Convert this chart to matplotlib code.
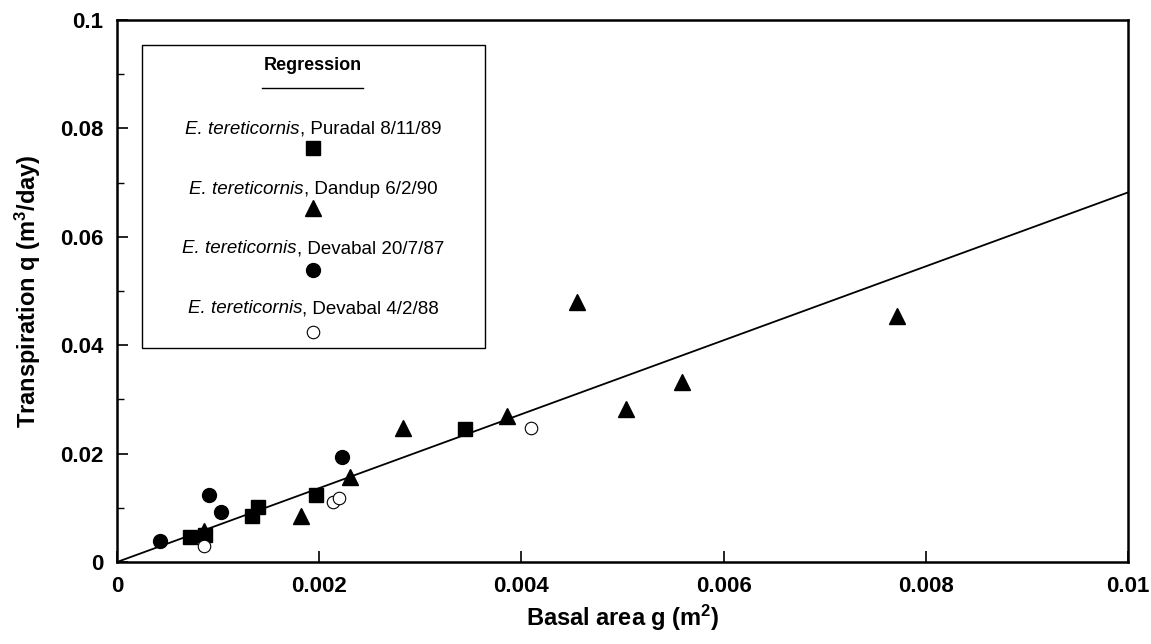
import numpy as np
import matplotlib
matplotlib.use("Agg")
import matplotlib.pyplot as plt
from matplotlib.patches import Rectangle
from matplotlib.ticker import FuncFormatter, MultipleLocator

plt.rcParams["font.family"] = ["Liberation Sans", "DejaVu Sans"]
plt.rcParams["mathtext.fontset"] = "custom"
plt.rcParams["mathtext.rm"] = "Liberation Sans"
plt.rcParams["mathtext.it"] = "Liberation Sans:italic"
plt.rcParams["mathtext.bf"] = "Liberation Sans:bold"

# E. tereticornis, Puradal 8/11/89 (filled squares)
puradal_g = [0.00072, 0.00087, 0.00133, 0.00139, 0.00197, 0.00344]
puradal_q = [0.0046, 0.0050, 0.0084, 0.0102, 0.0124, 0.0245]

# E. tereticornis, Dandup 6/2/90 (filled triangles)
dandup_g = [0.00086, 0.00182, 0.00230, 0.00283, 0.00386, 0.00455, 0.00503, 0.00559, 0.00771]
dandup_q = [0.0057, 0.0084, 0.0157, 0.0247, 0.0269, 0.0480, 0.0282, 0.0333, 0.0453]

# E. tereticornis, Devabal 20/7/87 (filled circles)
dev87_g = [0.00042, 0.00091, 0.00103, 0.00222]
dev87_q = [0.0039, 0.0124, 0.0093, 0.0193]

# E. tereticornis, Devabal 4/2/88 (open circles)
dev88_g = [0.00086, 0.00214, 0.00220, 0.00409]
dev88_q = [0.0030, 0.0111, 0.0118, 0.0247]

# regression through origin, q = slope * g
reg_slope = 6.82
reg_g = [0.0, 0.01]

species = "E. tereticornis"
series = [
    ("Puradal 8/11/89", puradal_g, puradal_q, "s", "black", 10),
    ("Dandup 6/2/90", dandup_g, dandup_q, "^", "black", 11),
    ("Devabal 20/7/87", dev87_g, dev87_q, "o", "black", 10),
    ("Devabal 4/2/88", dev88_g, dev88_q, "o", "white", 9),
]

fig = plt.figure(figsize=(11.51, 6.44), dpi=100)
ax = fig.add_axes([0.1017, 0.1273, 0.8784, 0.8416])

ax.plot(reg_g, [reg_slope * g for g in reg_g], color="black", lw=1.3, zorder=2)
for name, gx, qy, m, fc, ms in series:
    ax.plot(gx, qy, linestyle="none", marker=m, markersize=ms,
            markerfacecolor=fc, markeredgecolor="black",
            markeredgewidth=0.8 if fc == "white" else 1.0, zorder=3)

ax.set_xlim(0, 0.01)
ax.set_ylim(0, 0.1)
ax.xaxis.set_major_locator(MultipleLocator(0.002))
ax.yaxis.set_major_locator(MultipleLocator(0.02))
ax.yaxis.set_minor_locator(MultipleLocator(0.01))
fmt = FuncFormatter(lambda v, p: "%g" % round(v, 6))
ax.xaxis.set_major_formatter(fmt)
ax.yaxis.set_major_formatter(fmt)
ax.tick_params(which="major", direction="in", length=8, width=1.2,
               labelsize=16, pad=10)
ax.tick_params(which="minor", direction="in", length=5, width=1.0)
for lab in ax.get_xticklabels() + ax.get_yticklabels():
    lab.set_fontweight("bold")
for sp in ax.spines.values():
    sp.set_linewidth(1.8)

ax.set_xlabel(r"Basal area g (m$^\mathbf{2}$)", fontsize=17, fontweight="bold", labelpad=4)
ax.set_ylabel(r"Transpiration q (m$^\mathbf{3}$/day)", fontsize=17, fontweight="bold", labelpad=12)

# legend box drawn by hand: label above marker, as in the original figure
ax.add_patch(Rectangle((0.0247, 0.395), 0.339, 0.559, transform=ax.transAxes,
                       fill=False, lw=1.0, ec="black", zorder=4))
cx = 0.194
ax.text(cx, 0.917, "Regression", transform=ax.transAxes, ha="center", va="center",
        fontsize=13, fontweight="bold")
ax.plot([0.143, 0.243], [0.875, 0.875], transform=ax.transAxes, color="black", lw=1.0)

text_y = [0.790, 0.679, 0.570, 0.459]
mark_y = [0.764, 0.653, 0.539, 0.424]
renderer = fig.canvas.get_renderer()
ax_w = ax.get_window_extent(renderer).width
for (name, gx, qy, m, fc, ms), ty, my in zip(series, text_y, mark_y):
    t1 = ax.text(0, ty, species, transform=ax.transAxes, ha="left",
                 va="baseline", fontsize=13.5, style="italic")
    t2 = ax.text(0, ty, ", " + name, transform=ax.transAxes, ha="left",
                 va="baseline", fontsize=13.5)
    w1 = t1.get_window_extent(renderer).width / ax_w
    w2 = t2.get_window_extent(renderer).width / ax_w
    x0 = cx - (w1 + w2) / 2
    t1.set_x(x0)
    t2.set_x(x0 + w1)
    ax.plot([cx], [my], transform=ax.transAxes, linestyle="none", marker=m,
            markersize=ms, markerfacecolor=fc, markeredgecolor="black",
            markeredgewidth=0.8 if fc == "white" else 1.0, clip_on=False)

fig.savefig("out.png", dpi=100)
